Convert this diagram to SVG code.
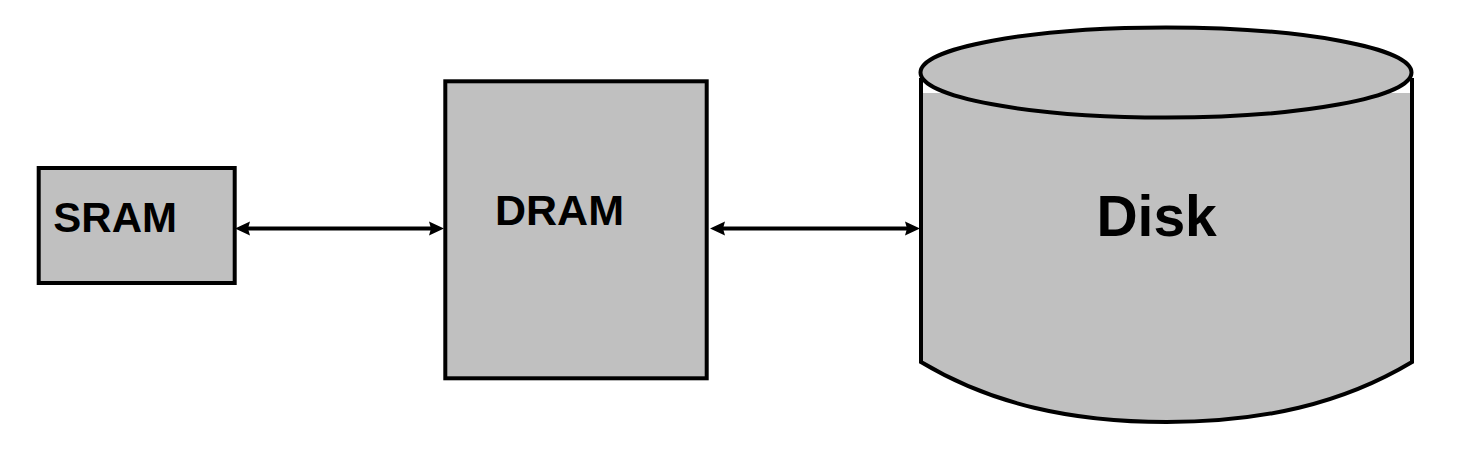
<svg xmlns="http://www.w3.org/2000/svg" width="1470" height="468" viewBox="0 0 1470 468">
  <style>
    .box { fill: #C0C0C0; stroke: #000; stroke-width: 4; }
    .lbl { font-family: "Liberation Sans", Arial, sans-serif; font-weight: bold; fill: #000; }
    .conn { stroke: #000; stroke-width: 4; fill: none; marker-start: url(#arr); marker-end: url(#arr); }
    .edge { stroke: #000; stroke-width: 4; fill: none; }
  </style>
  <defs>
    <marker id="arr" markerUnits="userSpaceOnUse" markerWidth="20" markerHeight="20" refX="0" refY="0" orient="auto-start-reverse" overflow="visible">
      <path d="M13,0 L-2,-7 L0,0 L-2,7 Z" fill="#000"/>
    </marker>
  </defs>
  <rect width="1470" height="468" fill="#fff"/>
  <g id="sram">
    <rect class="box" x="38.7" y="168" width="196" height="115"/>
    <text class="lbl" x="53.3" y="231.7" font-size="42">SRAM</text>
  </g>
  <g id="dram">
    <rect class="box" x="445.3" y="81.3" width="261.4" height="297"/>
    <text class="lbl" x="495" y="225" font-size="43">DRAM</text>
  </g>
  <g id="disk">
    <path d="M921,93 L1412,93 L1412,362 C1342,404 1262,422 1166.5,422 C1071,422 991,404 921,362 Z" fill="#C0C0C0"/>
    <path class="edge" d="M921,78 L921,362 C991,404 1071,422 1166.5,422 C1262,422 1342,404 1412,362 L1412,78"/>
    <ellipse class="box" cx="1166" cy="72.5" rx="245.5" ry="45" stroke-width="3.5"/>
    <text class="lbl" x="1096.4" y="235.7" font-size="57">Disk</text>
  </g>
  <g id="connectors">
    <line class="conn" x1="248" y1="228.5" x2="431" y2="228.5"/>
    <line class="conn" x1="723" y1="228.5" x2="907" y2="228.5"/>
  </g>
</svg>
